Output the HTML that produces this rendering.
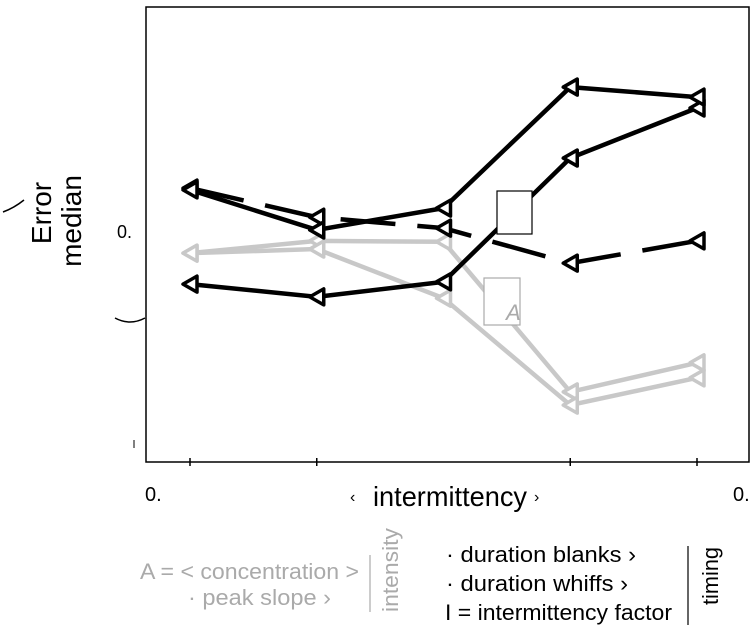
<!DOCTYPE html>
<html><head><meta charset="utf-8"><style>
body{margin:0;background:#fff;}
svg{display:block;font-family:"Liberation Sans",sans-serif;}
</style></head><body>
<svg width="752" height="632" viewBox="0 0 752 632">
<rect x="146" y="7" width="603" height="455" fill="none" stroke="#000" stroke-width="1.5"/>
<g id="series"></g>
<rect x="497" y="191" width="35" height="43" fill="#fff" stroke="#000" stroke-width="1.2"/>
<rect x="484" y="278" width="36" height="47" fill="#fff" stroke="#aaa" stroke-width="1.2"/>
<text x="506" y="320" font-size="22" font-style="italic" fill="#aaa">A</text>
<text x="117" y="238" font-size="18" fill="#000">0.</text>
<path d="M115 318 Q130 326 145 318" fill="none" stroke="#000" stroke-width="1.5"/>
<path d="M3 212 Q14 208 24 200" fill="none" stroke="#000" stroke-width="1.5"/>
<line x1="134" y1="440" x2="134" y2="448" stroke="#000"/>
<text x="145" y="501" font-size="20">0.</text>
<text x="733" y="501" font-size="20">0.</text>
<text x="350" y="502" font-size="16">‹</text>
<text x="373" y="506" font-size="28" textLength="154" lengthAdjust="spacingAndGlyphs">intermittency</text>
<text x="534" y="502" font-size="16">›</text>
<text transform="translate(51,213) rotate(-90)" text-anchor="middle" font-size="28">Error</text>
<text transform="translate(81,221) rotate(-90)" text-anchor="middle" font-size="28">median</text>
<g fill="#aaa">
<text x="140" y="579" font-size="22" textLength="219" lengthAdjust="spacingAndGlyphs">A = &lt; concentration &gt;</text>
<text x="188" y="605" font-size="22" textLength="143" lengthAdjust="spacingAndGlyphs">· peak slope ›</text>
<line x1="370" y1="555" x2="370" y2="612" stroke="#aaa" stroke-width="1.2"/>
<text transform="translate(398,612) rotate(-90)" font-size="22" textLength="84" lengthAdjust="spacingAndGlyphs">intensity</text>
</g>
<g fill="#000">
<text x="446" y="562" font-size="22" textLength="190" lengthAdjust="spacingAndGlyphs">·  duration blanks ›</text>
<text x="446" y="591" font-size="22" textLength="182" lengthAdjust="spacingAndGlyphs">·  duration whiffs ›</text>
<text x="445" y="620" font-size="22" textLength="227" lengthAdjust="spacingAndGlyphs">I = intermittency  factor</text>
<line x1="688" y1="546" x2="688" y2="625" stroke="#000" stroke-width="1.2"/>
<text transform="translate(718,605) rotate(-90)" font-size="22" textLength="58" lengthAdjust="spacingAndGlyphs">timing</text>
</g>
</svg>
<script>
const categories = ["c1","c2","c3","c4","c5"];
const black1 = [59.8, 51.0, 55.8, 82.4, 80.2];
const black2 = [39.1, 36.3, 39.6, 66.8, 77.8];
const dashed = [60.2, 53.8, 51.4, 43.7, 48.6];
const grayA = [45.9, 48.6, 48.4, 15.4, 21.8];
const grayB = [45.9, 46.8, 36.0, 12.5, 18.5];
const NS="http://www.w3.org/2000/svg";
const xs = i => 190 + i*126.75;
const ys = v => 462 - v*4.55;
const g = document.getElementById('series');
const tickXs=[0,1,3,4];
tickXs.forEach(i=>{
  const t=document.createElementNS(NS,'line');
  t.setAttribute('x1',xs(i));t.setAttribute('x2',xs(i));t.setAttribute('y1',458);t.setAttribute('y2',466);
  t.setAttribute('stroke','#000');t.setAttribute('stroke-width','1.5');
  
  
  g.appendChild(t);
});
function draw(vals,color,dash,name){
  const p=document.createElementNS(NS,'polyline');
  p.setAttribute('points',vals.map((v,i)=>xs(i)+','+ys(v)).join(' '));
  p.setAttribute('fill','none');p.setAttribute('stroke',color);p.setAttribute('stroke-width','4.5');
  if(dash)p.setAttribute('stroke-dasharray','55 22');
  
  
  g.appendChild(p);
  vals.forEach((v,i)=>{
    const x=xs(i),y=ys(v);
    const m=document.createElementNS(NS,'polygon');
    m.setAttribute('points',(x-7)+','+y+' '+(x+7)+','+(y-8)+' '+(x+7)+','+(y+8));
    m.setAttribute('fill','#fff');m.setAttribute('stroke',color);m.setAttribute('stroke-width','3.5');
    m.setAttribute('stroke-linejoin','round');
    
    
    g.appendChild(m);
  });
}
draw(grayA,'#c8c8c8',false,'peak-slope');
draw(grayB,'#c8c8c8',false,'concentration');
draw(dashed,'#000',true,'intermittency-factor');
draw(black2,'#000',false,'duration-whiffs');
draw(black1,'#000',false,'duration-blanks');
</script>
</body></html>
